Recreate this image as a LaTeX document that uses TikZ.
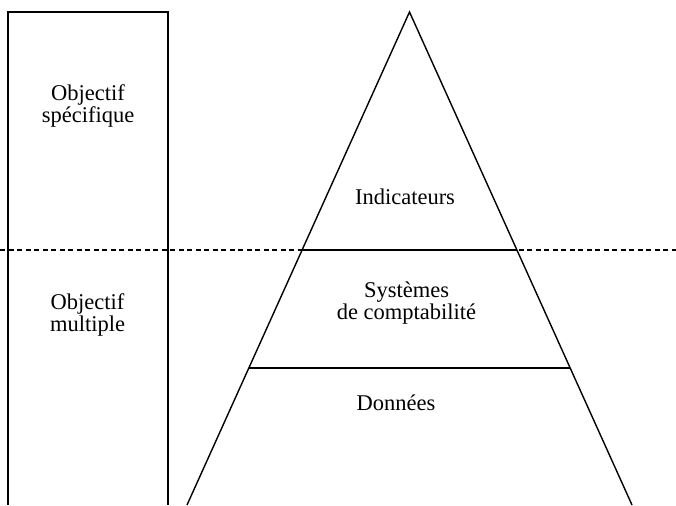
\documentclass[tikz,border=0pt]{standalone}
\usepackage{fontspec}
\setmainfont{Liberation Serif}
\usepackage{tikz}
\usetikzlibrary{calc}

\begin{document}
\begin{tikzpicture}[
    x=1pt, y=-1pt,
    edge/.style={line width=1.4pt, black},
    sep/.style={line width=1.2pt, dash pattern=on 5pt off 3.5pt},
    label/.style={anchor=base, align=center, inner sep=0pt, font=\fontsize{22.5}{22}\selectfont}
]
\useasboundingbox (0,0) rectangle (676,505);

% left column, open at the bottom
\draw[edge] (8,505) -- (8,12) -- (168,12) -- (168,505);

% pyramid
\coordinate (apex) at (409.5,12);
\coordinate (bl) at (187,505);
\coordinate (br) at (632,505);
\draw[edge] (bl) -- (apex) -- (br);
\coordinate (l1) at ($(apex)!0.4828!(bl)$);
\coordinate (r1) at ($(apex)!0.4828!(br)$);
\coordinate (l2) at ($(apex)!0.7221!(bl)$);
\coordinate (r2) at ($(apex)!0.7221!(br)$);
\draw[edge] (l1) -- (r1);
\draw[edge] (l2) -- (r2);

% dashed separation
\coordinate (dl) at (0,250);
\coordinate (dr) at (676,250);
\draw[sep] (dl) -- (dr);

% base anchor = last line of the text
\node[label] (spec) at (88,122.7) {Objectif\\spécifique};
\node[label] (multi) at (87.5,331) {Objectif\\multiple};
\node[label] (indic) at (405,204) {Indicateurs};
\node[label] (sys) at (406.5,319) {Systèmes\\de comptabilité};
\node[label] (donn) at (396,410.7) {Données};

\end{tikzpicture}
\end{document}
